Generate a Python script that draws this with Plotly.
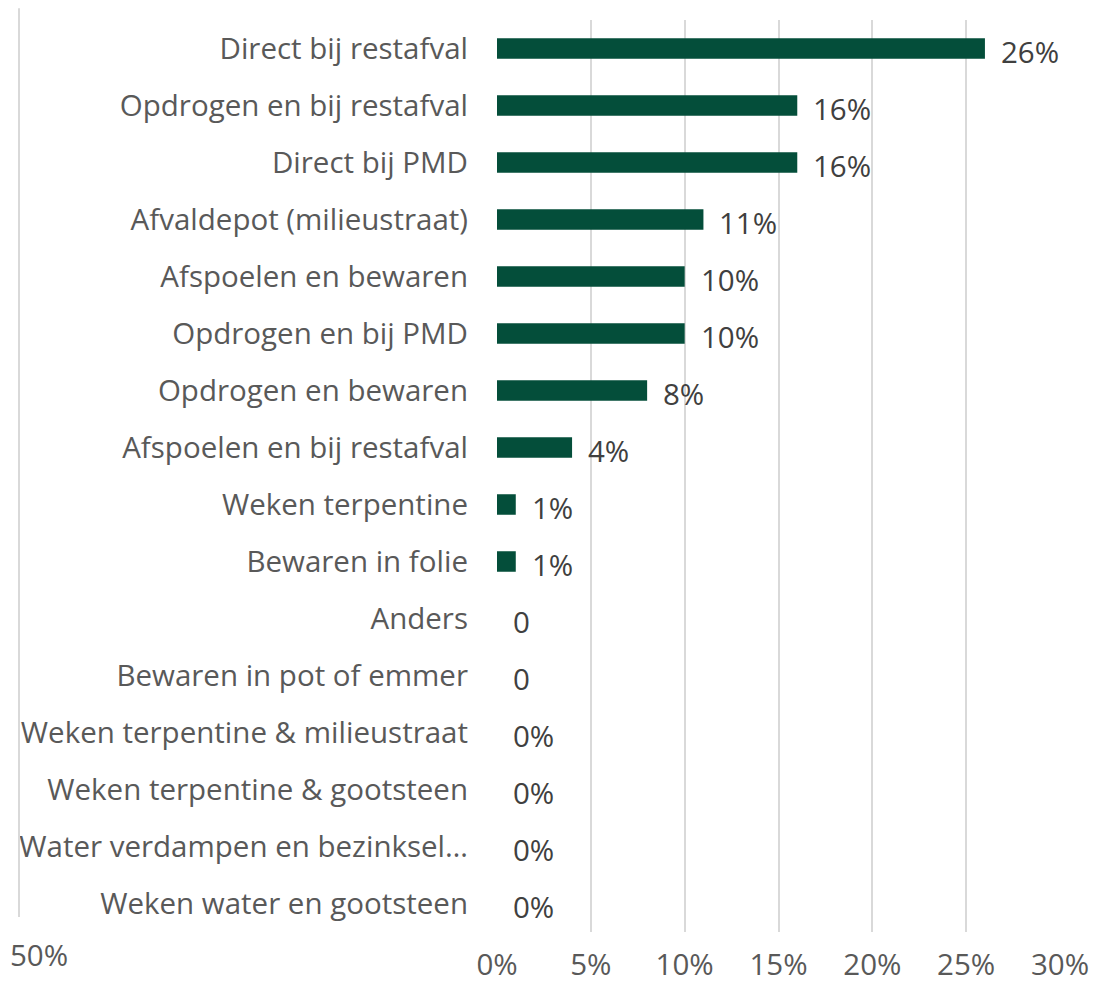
import plotly.graph_objects as go

categories = [
    "Direct bij restafval",
    "Opdrogen en bij restafval",
    "Direct bij PMD",
    "Afvaldepot (milieustraat)",
    "Afspoelen en bewaren",
    "Opdrogen en bij PMD",
    "Opdrogen en bewaren",
    "Afspoelen en bij restafval",
    "Weken terpentine",
    "Bewaren in folie",
    "Anders",
    "Bewaren in pot of emmer",
    "Weken terpentine & milieustraat",
    "Weken terpentine & gootsteen",
    "Water verdampen en bezinksel\u2026",
    "Weken water en gootsteen",
]
values = [26, 16, 16, 11, 10, 10, 8, 4, 1, 1, 0, 0, 0, 0, 0, 0]
value_labels = ["26%", "16%", "16%", "11%", "10%", "10%", "8%", "4%", "1%", "1%",
                "0", "0", "0%", "0%", "0%", "0%"]
x_ticks = [0, 5, 10, 15, 20, 25, 30]
x_tick_labels = ["0%", "5%", "10%", "15%", "20%", "25%", "30%"]

FONT = "Open Sans"
FS = 29.5
BAR = "#044E3A"
TICK = "#595959"
GRID = "#D9D9D9"

fig = go.Figure()
fig.add_trace(go.Bar(
    y=categories, x=values, orientation="h",
    marker=dict(color=BAR, line=dict(width=0)),
    hoverinfo="skip",
))

for c, v, t in zip(categories, values, value_labels):
    fig.add_annotation(x=v, y=c, xref="x", yref="y", text=t, showarrow=False,
                       xanchor="left", yanchor="middle", xshift=14, yshift=-3,
                       font=dict(family=FONT, size=FS, color="#404040"))

# extra left gridline and its label (as in the reference)
fig.add_shape(type="line", xref="paper", yref="paper", x0=-0.849, x1=-0.849,
              y0=0.0165, y1=1.013, line=dict(color=GRID, width=2))
fig.add_annotation(xref="paper", yref="paper", x=-0.8686, y=-0.025, text="50%",
                   showarrow=False, xanchor="left", yanchor="middle",
                   font=dict(family=FONT, size=FS, color=TICK))

# the page adds an 8px body margin, so the figure is 8px smaller
fig.update_layout(
    width=1098, height=976,
    margin=dict(l=489, r=46, t=12, b=52),
    paper_bgcolor="white", plot_bgcolor="white",
    bargap=0.64,
    showlegend=False,
    font=dict(family=FONT, size=FS, color=TICK),
    xaxis=dict(range=[0, 30], tickvals=x_ticks, ticktext=x_tick_labels,
               showgrid=True, gridcolor=GRID, gridwidth=2, zeroline=False,
               showline=False, ticks="", ticklabelstandoff=12, automargin=False,
               tickfont=dict(family=FONT, size=FS, color=TICK), fixedrange=True),
    yaxis=dict(autorange="reversed", showgrid=False, zeroline=False,
               showline=False, ticks="", ticklabelstandoff=28, automargin=False,
               tickfont=dict(family=FONT, size=FS, color=TICK), fixedrange=True),
)

fig.write_html("out.html")
